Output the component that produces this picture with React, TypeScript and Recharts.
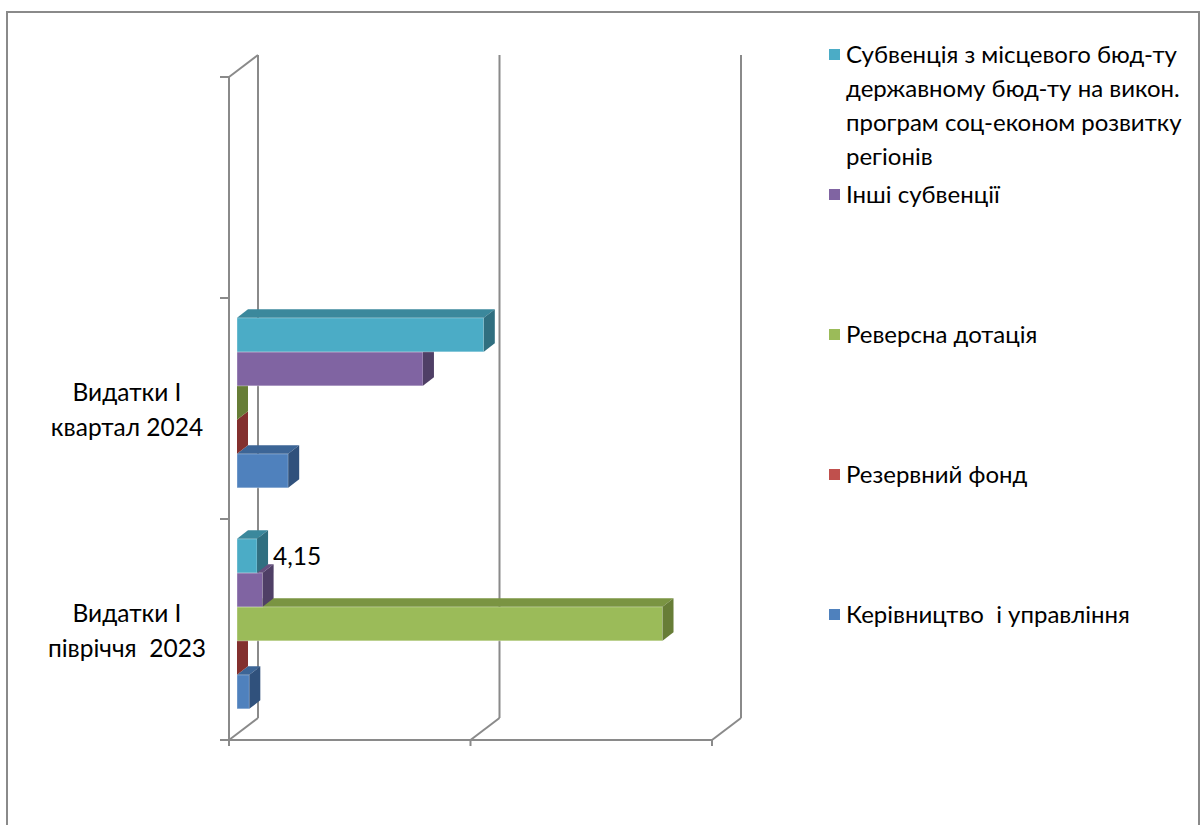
import React from 'react';
import { BarChart, Bar, XAxis, YAxis, CartesianGrid, Legend, LabelList } from 'recharts';

// ---------- data ----------
const categories = ['', 'Видатки І\nквартал 2024', 'Видатки І\nпівріччя  2023'];
const management = [null, 10.6, 2.55];
const reserveFund = [null, 0, 0];
const reverseSubsidy = [null, 0, 88.1];
const otherSubventions = [null, 38.5, 5.3];
const subventionLocal = [null, 51.1, 4.15];
const subventionLabels = ['', '', '4,15'];
const xTicks = [0, 50, 100];

const seriesNames = [
  'Керівництво  і управління',
  'Резервний фонд',
  'Реверсна дотація',
  'Інші субвенції',
  'Субвенція з місцевого бюд-ту\nдержавному бюд-ту на викон.\nпрограм соц-економ розвитку\nрегіонів',
];

const data = categories.map((c, i) => ({
  category: c,
  management: management[i],
  reserveFund: reserveFund[i],
  reverseSubsidy: reverseSubsidy[i],
  otherSubventions: otherSubventions[i],
  subventionLocal: subventionLocal[i],
  subventionLabel: subventionLabels[i],
}));

// ---------- styles ----------
const FONT = 'Lato, Carlito, "Open Sans", sans-serif';
const FS = 24.5;
const LEGEND_FS = 24;
const GRID = '#8a8a8a';
const series = [
  { key: 'management', front: '#4F81BD', top: '#3C6596', side: '#30517C' },
  { key: 'reserveFund', front: '#C0504D', top: '#9A3C3A', side: '#83302E' },
  { key: 'reverseSubsidy', front: '#9BBB59', top: '#7A9442', side: '#677D37' },
  { key: 'otherSubventions', front: '#8064A2', top: '#65507F', side: '#4F3F66' },
  { key: 'subventionLocal', front: '#4BACC6', top: '#3B889C', side: '#306F80' },
];
const N = series.length;

// 3D geometry
const WALL_DX = 29;
const WALL_DY = 22;
const FRONT_DX = 8;
const FRONT_DY = 6;
const DEPTH_DX = 11;
const DEPTH_DY = 8.5;

const make3DShape = (idx: number, c: any) => (props: any) => {
  const { x, y, width, height, value } = props;
  if (value === null || value === undefined) return <g />;
  const w = Math.max(0, width || 0);
  const h = height || 0;
  // bars are declared bottom-first (for paint order); mirror their slot inside the group
  const shift = (N - 1 - 2 * idx) * h;
  const x0 = x + FRONT_DX;
  const y0 = y + shift - FRONT_DY;
  return (
    <g>
      <rect x={x0} y={y0} width={w} height={h} fill={c.front} stroke="rgba(255,255,255,0.35)" strokeWidth={1} />
      <polygon
        points={`${x0},${y0} ${x0 + w},${y0} ${x0 + w + DEPTH_DX},${y0 - DEPTH_DY} ${x0 + DEPTH_DX},${y0 - DEPTH_DY}`}
        fill={c.top}
      />
      <polygon
        points={`${x0 + w},${y0} ${x0 + w + DEPTH_DX},${y0 - DEPTH_DY} ${x0 + w + DEPTH_DX},${y0 + h - DEPTH_DY} ${x0 + w},${y0 + h}`}
        fill={c.side}
      />
    </g>
  );
};

const renderGridLine = (p: any) => {
  const { x1, y1, y2, index } = p;
  const bx = x1 + WALL_DX;
  const top = y1 - WALL_DY;
  const bottom = y2 - WALL_DY;
  const ticks: any[] = [];
  if (index === 0) {
    for (let k = 0; k <= categories.length; k++) {
      const ty = y1 + (k * (y2 - y1)) / categories.length;
      ticks.push(<line key={`t${k}`} x1={x1 - 9} y1={ty} x2={x1} y2={ty} stroke={GRID} strokeWidth={2} />);
    }
  }
  return (
    <g key={`grid-${index}-${x1}`}>
      <line x1={bx} y1={top} x2={bx} y2={bottom} stroke={GRID} strokeWidth={2} />
      <line x1={x1} y1={y2} x2={bx} y2={bottom} stroke={GRID} strokeWidth={2} />
      {index === 0 && <line x1={x1} y1={y1} x2={bx} y2={top} stroke={GRID} strokeWidth={2} />}
      {ticks}
    </g>
  );
};

const CategoryTick = (props: any) => {
  const { y, payload } = props;
  const lines = String(payload.value).split('\n');
  const lh = 35;
  const startY = y - ((lines.length - 1) * lh) / 2;
  return (
    <text x={127} y={startY} textAnchor="middle" dominantBaseline="central" fontFamily={FONT} fontSize={FS} fill="#000" style={{ whiteSpace: 'pre' }}>
      {lines.map((l, i) => (
        <tspan key={i} x={127} y={startY + i * lh}>
          {l}
        </tspan>
      ))}
    </text>
  );
};

const makeLabel = (idx: number) => (props: any) => {
  const { x, y, width, height, value } = props;
  if (!value) return null;
  const shift = (N - 1 - 2 * idx) * height;
  return (
    <text
      x={x + width + FRONT_DX + DEPTH_DX + 5}
      y={y + shift - FRONT_DY + height / 2}
      dominantBaseline="central"
      fontFamily={FONT}
      fontSize={FS}
      fill="#000"
    >
      {value}
    </text>
  );
};

const renderLegend = (props: any) => {
  const items = [...(props.payload || [])].sort(
    (a: any, b: any) => seriesNames.indexOf(b.value) - seriesNames.indexOf(a.value)
  );
  return (
    <div style={{ fontFamily: FONT, fontSize: LEGEND_FS, lineHeight: '34px', color: '#000' }}>
      {items.map((it: any) => (
        <div key={it.value} style={{ height: 140, display: 'flex', alignItems: 'flex-start' }}>
          <span style={{ width: 11, height: 11, background: it.color, marginTop: 12, marginRight: 6, flex: 'none' }} />
          <span style={{ whiteSpace: 'pre' }}>{it.value}</span>
        </div>
      ))}
    </div>
  );
};

export default function App() {
  return (
    <div style={{ position: 'absolute', left: 0, top: 0, width: 1203, height: 825, overflow: 'hidden', background: '#fff' }}>
      <div style={{ position: 'absolute', left: 6, top: 11, width: 1190, height: 900, border: `2px solid ${GRID}` }} />
      <div style={{ position: 'absolute', left: 0, top: 0 }}>
        <BarChart
          width={1203}
          height={825}
          data={data}
          layout="vertical"
          margin={{ top: 77, right: 491, bottom: 55, left: 29 }}
          barCategoryGap="11.7%"
          barGap={0}
        >
          <CartesianGrid horizontal={false} vertical={renderGridLine} />
          <XAxis
            type="number"
            domain={[0, 100]}
            ticks={xTicks}
            height={30}
            tickFormatter={() => ''}
            tickSize={6}
            axisLine={{ stroke: GRID, strokeWidth: 2 }}
            tickLine={{ stroke: GRID, strokeWidth: 2 }}
          />
          <YAxis
            type="category"
            dataKey="category"
            width={200}
            tickLine={false}
            axisLine={{ stroke: GRID, strokeWidth: 2 }}
            tick={<CategoryTick />}
          />
          {series.map((s, i) => (
            <Bar
              key={s.key}
              dataKey={s.key}
              name={seriesNames[i]}
              fill={s.front}
              shape={make3DShape(i, s)}
              isAnimationActive={false}
            >
              {s.key === 'subventionLocal' && (
                <LabelList dataKey="subventionLabel" content={makeLabel(i)} />
              )}
            </Bar>
          ))}
          <Legend
            layout="vertical"
            align="center"
            verticalAlign="middle"
            content={renderLegend}
            wrapperStyle={{ left: 829, top: 37, width: 368 }}
          />
        </BarChart>
      </div>
    </div>
  );
}
